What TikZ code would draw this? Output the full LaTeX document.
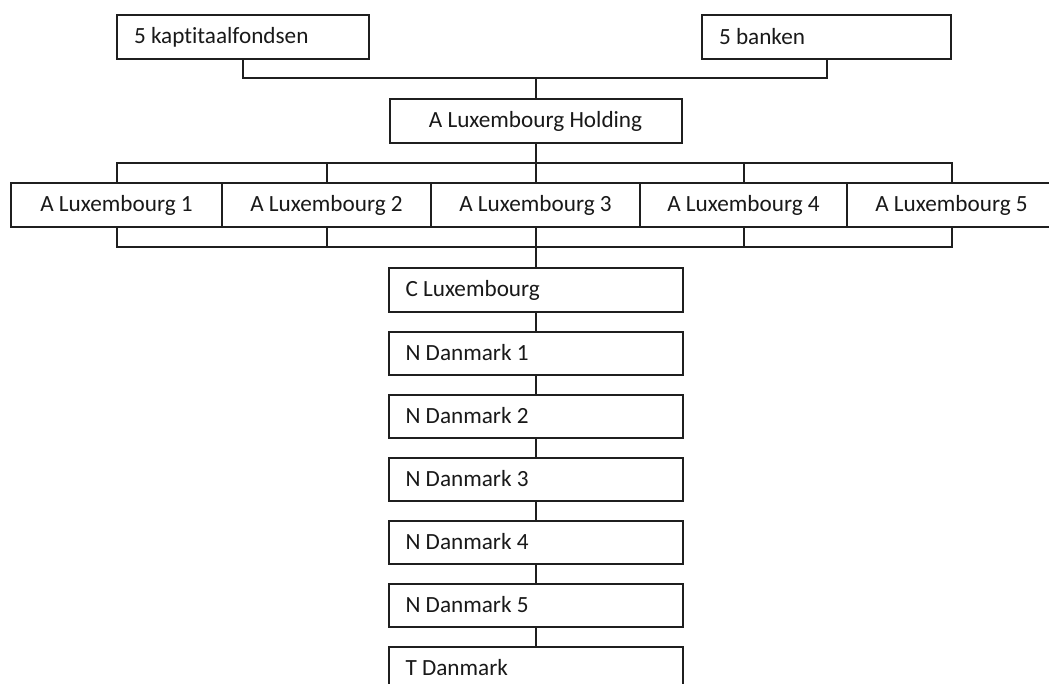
\documentclass[tikz,border=0pt]{standalone}
\usepackage{fontspec}
\setmainfont[Ligatures={NoCommon}]{Carlito}
\begin{document}
\begin{tikzpicture}[x=0.75pt,y=-0.75pt,
  box/.style={draw=black!88, line width=1.5pt, fill=white, inner sep=0pt, font=\fontsize{17.4pt}{20pt}\selectfont, text=black!90},
  lbox/.style={box, align=flush left, inner xsep=17*0.75pt, text width=#1*0.75pt-34*0.75pt, minimum height=44*0.75pt},
  cbox/.style={box, minimum width=#1*0.75pt, minimum height=44*0.75pt},
  link/.style={draw=black!88, line width=1.5pt}]
\useasboundingbox (0,0) rectangle (1049,684);
\fill[white] (0,0) rectangle (1049,684);
% top
\node[lbox=252] (kapt) at (243,37) {5 kaptitaalfondsen};
\node[lbox=249] (bank) at (826.5,37) {5 banken};
\node[cbox=292] (hold) at (535.5,121) {A Luxembourg Holding};
% row
\node[cbox=211] (a1) at (116.5,205) {A Luxembourg 1};
\node[cbox=209] (a2) at (326.5,205) {A Luxembourg 2};
\node[cbox=209] (a3) at (535.5,205) {A Luxembourg 3};
\node[cbox=207] (a4) at (743.5,205) {A Luxembourg 4};
\node[cbox=209] (a5) at (951.5,205) {A Luxembourg 5};
% chain
\node[lbox=294,minimum height=43*0.75pt] (c)  at (535.5,290) {C Luxembourg};
\node[lbox=294,minimum height=43*0.75pt] (n1) at (535.5,353) {N Danmark 1};
\node[lbox=294,minimum height=43*0.75pt] (n2) at (535.5,416) {N Danmark 2};
\node[lbox=294,minimum height=43*0.75pt] (n3) at (535.5,479) {N Danmark 3};
\node[lbox=294,minimum height=43*0.75pt] (n4) at (535.5,542) {N Danmark 4};
\node[lbox=294,minimum height=43*0.75pt] (n5) at (535.5,605) {N Danmark 5};
\node[lbox=294,minimum height=43*0.75pt] (t)  at (535.5,668) {T Danmark};
% junctions
\coordinate (j1) at (535.5,78);
\coordinate (j2) at (535.5,163);
\coordinate (j3) at (535.5,247);
% connectors
\draw[link] (kapt.south) |- (j1) -| (bank.south);
\draw[link] (j1) -- (hold.north);
\draw[link] (hold.south) -- (a3.north);
\draw[link] (a1.north) |- (j2) -| (a5.north);
\draw[link] (a2.north) -- (a2.north |- j2);
\draw[link] (a4.north) -- (a4.north |- j2);
\draw[link] (a1.south) |- (j3) -| (a5.south);
\draw[link] (a2.south) -- (a2.south |- j3);
\draw[link] (a4.south) -- (a4.south |- j3);
\draw[link] (a3.south) -- (c.north);
\draw[link] (c.south) -- (n1.north);
\draw[link] (n1.south) -- (n2.north);
\draw[link] (n2.south) -- (n3.north);
\draw[link] (n3.south) -- (n4.north);
\draw[link] (n4.south) -- (n5.north);
\draw[link] (n5.south) -- (t.north);
\end{tikzpicture}
\end{document}
